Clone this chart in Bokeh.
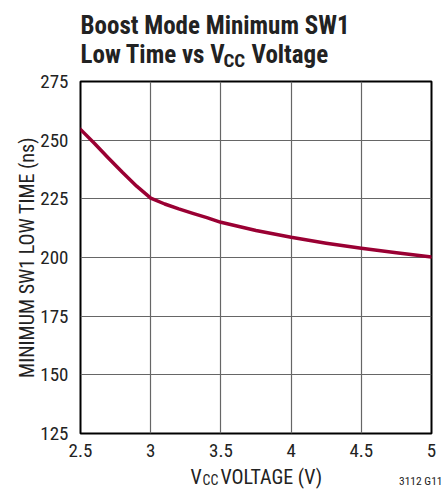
from bokeh.plotting import figure
from bokeh.models import FixedTicker
from bokeh.layouts import column
from bokeh.core.properties import value
from bokeh.embed import file_html
from bokeh.resources import INLINE

# ---- data ----
vcc = [2.5, 2.6, 2.7, 2.8, 2.9, 3.0, 3.1, 3.2, 3.3, 3.4, 3.5, 3.75, 4.0, 4.25, 4.5, 4.75, 5.0]
low_time = [254.6, 248.6, 242.3, 236.2, 230.4, 225.3, 222.8, 220.7, 218.8, 217.0, 215.0,
            211.5, 208.6, 206.1, 203.9, 202.0, 200.2]
x_ticks = [2.5, 3, 3.5, 4, 4.5, 5]
x_tick_labels = ["2.5", "3", "3.5", "4", "4.5", "5"]
y_ticks = [125, 150, 175, 200, 225, 250, 275]

title_1 = "Boost Mode Minimum SW1"
title_2 = ["Low Time vs V", "CC", "Voltage"]
x_label = ["V", "CC", "VOLTAGE (V)"]
y_label = "MINIMUM SW1 LOW TIME (ns)"
fig_code = "3112 G11"

FONT = "'Liberation Sans Narrow', 'Roboto Condensed', 'DejaVu Sans Condensed', sans-serif"
INK = "#222222"

W = 444
TOP_H = 71          # title strip (page rows 0..71)
MAIN_TOP, FRAME_H, MAIN_BOT = 10, 352, 32
MAIN_H = MAIN_TOP + FRAME_H + MAIN_BOT
BOT_H = 489 - TOP_H - MAIN_H
OFFS = {"top": 0, "main": TOP_H, "bot": TOP_H + MAIN_H}


def strip(h):
    f = figure(width=W, height=h, x_range=(0, W), y_range=(0, h), title=None,
               output_backend="svg", toolbar_location=None,
               x_axis_location=None, y_axis_location=None,
               min_border=0, min_border_left=0, min_border_right=0,
               min_border_top=0, min_border_bottom=0, frame_align=False)
    f.grid.visible = False
    f.outline_line_color = None
    f.background_fill_color = "white"
    f.border_fill_color = "white"
    return f


def txt(f, where, text, px, py, size, style="normal", align="left"):
    # px/py: baseline position in the picture (top-left origin) -> strip coordinates
    fs = float(size.replace("px", ""))
    f.text(x=[px], y=[f.height - (py - OFFS[where]) + 0.26 * fs], text=[text],
           text_font=value(FONT), text_font_size=size, text_font_style=style,
           text_align=align, text_baseline="alphabetic", text_color=INK)


# ---- title strip ----
t = strip(TOP_H)
txt(t, "top", title_1, 80, 31.5, "25px", "bold")
txt(t, "top", title_2[0], 80, 60.5, "25px", "bold")
txt(t, "top", title_2[1], 223, 65.0, "19px", "bold")
txt(t, "top", title_2[2], 251, 60.5, "25px", "bold")

# ---- main chart ----
p = figure(width=W, height=MAIN_H, x_range=(2.5, 5), y_range=(125, 275), title=None,
           output_backend="svg", toolbar_location=None,
           min_border_left=80, min_border_right=13,
           min_border_top=MAIN_TOP, min_border_bottom=MAIN_BOT, frame_align=False)
p.background_fill_color = "white"
p.border_fill_color = "white"
p.outline_line_color = "black"
p.outline_line_width = 2

for ax in (p.xaxis[0], p.yaxis[0]):
    ax.axis_line_color = None
    ax.major_tick_line_color = None
    ax.minor_tick_line_color = None
    ax.major_tick_out = 0
    ax.major_tick_in = 0
    ax.minor_tick_out = 0
    ax.minor_tick_in = 0
    ax.major_label_text_font = FONT
    ax.major_label_text_font_size = "19px"
    ax.major_label_text_color = INK
p.xaxis.ticker = FixedTicker(ticks=x_ticks)
p.xaxis.major_label_overrides = {tk: lb for tk, lb in zip(x_ticks, x_tick_labels)}
p.xaxis.major_label_standoff = 10
p.yaxis.ticker = FixedTicker(ticks=y_ticks)
p.yaxis.major_label_standoff = 12
p.yaxis.axis_label = y_label
p.yaxis.axis_label_text_font = FONT
p.yaxis.axis_label_text_font_size = "20px"
p.yaxis.axis_label_text_font_style = "normal"
p.yaxis.axis_label_text_color = INK
p.yaxis.axis_label_standoff = -2

p.xgrid.grid_line_color = "#666666"
p.ygrid.grid_line_color = "#666666"
p.xgrid.grid_line_width = 1.2
p.ygrid.grid_line_width = 1.2

p.line(vcc, low_time, line_color="#9a0033", line_width=3.5,
       line_join="round", line_cap="round")

# ---- bottom strip: x axis title and figure code ----
b = strip(BOT_H)
txt(b, "bot", x_label[0], 190, 481.5, "20px")
txt(b, "bot", x_label[1], 202, 483.5, "14px")
txt(b, "bot", x_label[2], 220, 481.5, "20px")
txt(b, "bot", fig_code, 442, 483, "11.5px", align="right")

layout = column(t, p, b, spacing=0)
open("out.html", "w").write(file_html(layout, INLINE))
